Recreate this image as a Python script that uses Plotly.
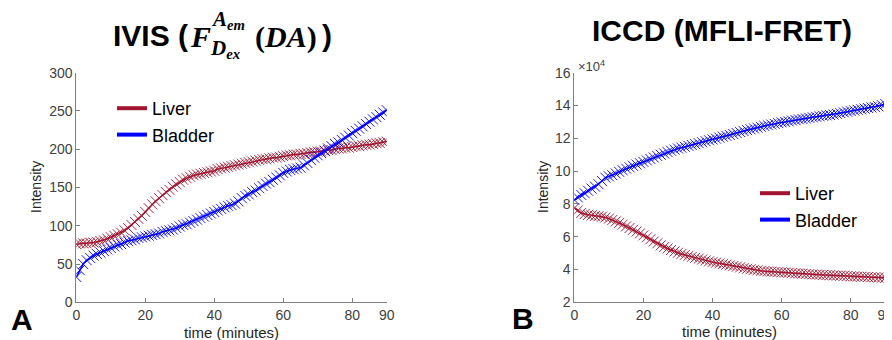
import plotly.graph_objects as go

minutes = list(range(0, 91))

ivis_liver = [76, 77, 77, 77, 78, 78,
              79, 80, 81, 83, 85,
              87, 89, 91, 94, 97,
              101, 105, 109, 113, 118,
              123, 128, 132, 136, 140,
              144, 147, 151, 154, 157,
              160, 162, 164, 166, 167,
              168, 169, 170, 171, 172,
              174, 175, 176, 177, 178,
              179, 180, 181, 182, 183,
              184, 185, 186, 187, 187,
              188, 189, 189, 190, 191,
              192, 192, 193, 193, 194,
              194, 195, 196, 196, 197,
              197, 198, 199, 199, 200,
              201, 201, 202, 202, 203,
              204, 204, 205, 206, 206,
              207, 208, 208, 209, 210]

ivis_bladder = [33, 42, 50, 55, 58, 61,
                63, 65, 67, 69, 71,
                73, 75, 76, 78, 80,
                81, 82, 84, 85, 86,
                87, 88, 89, 90, 92,
                93, 94, 95, 97, 99,
                101, 102, 104, 106, 108,
                110, 112, 114, 116, 118,
                120, 122, 124, 126, 127,
                129, 132, 136, 139, 141,
                144, 146, 149, 152, 155,
                157, 160, 163, 166, 169,
                171, 173, 174, 175, 176,
                179, 182, 186, 189, 192,
                195, 198, 201, 204, 207,
                209, 212, 215, 218, 221,
                224, 227, 230, 233, 236,
                239, 242, 245, 248, 251]

# ICCD values in units of 10^4
iccd_liver = [7.75, 7.6, 7.45, 7.38, 7.33, 7.3,
              7.27, 7.25, 7.22, 7.17, 7.1,
              7.02, 6.93, 6.84, 6.74, 6.63,
              6.53, 6.42, 6.31, 6.2, 6.08,
              5.96, 5.84, 5.71, 5.59, 5.47,
              5.37, 5.28, 5.19, 5.1, 5.02,
              4.95, 4.89, 4.83, 4.77, 4.71,
              4.66, 4.61, 4.55, 4.5, 4.45,
              4.41, 4.37, 4.33, 4.29, 4.25,
              4.21, 4.17, 4.13, 4.08, 4.04,
              4.01, 3.98, 3.95, 3.92, 3.9,
              3.88, 3.87, 3.86, 3.84, 3.83,
              3.82, 3.8, 3.79, 3.77, 3.76,
              3.75, 3.73, 3.72, 3.7, 3.69,
              3.68, 3.67, 3.66, 3.65, 3.64,
              3.63, 3.62, 3.61, 3.6, 3.59,
              3.58, 3.57, 3.56, 3.55, 3.54,
              3.53, 3.52, 3.51, 3.5, 3.49]

iccd_bladder = [8.25, 8.4, 8.55, 8.65, 8.8, 8.93,
                9.05, 9.2, 9.4, 9.6, 9.68,
                9.75, 9.85, 9.95, 10.05, 10.15,
                10.23, 10.32, 10.4, 10.48, 10.56,
                10.65, 10.74, 10.83, 10.92, 11.0,
                11.08, 11.16, 11.24, 11.31, 11.38,
                11.43, 11.48, 11.54, 11.59, 11.64,
                11.7, 11.76, 11.82, 11.88, 11.93,
                11.98, 12.04, 12.1, 12.15, 12.2,
                12.26, 12.32, 12.38, 12.44, 12.5,
                12.55, 12.6, 12.65, 12.7, 12.75,
                12.8, 12.84, 12.88, 12.93, 12.97,
                13.0, 13.04, 13.08, 13.11, 13.15,
                13.18, 13.21, 13.25, 13.28, 13.31,
                13.34, 13.37, 13.4, 13.42, 13.45,
                13.49, 13.53, 13.58, 13.62, 13.66,
                13.7, 13.74, 13.77, 13.81, 13.85,
                13.88, 13.9, 13.95, 14.02, 14.09]

x_ticks = [0, 20, 40, 60, 80, 90]
ivis_yticks = [0, 50, 100, 150, 200, 250, 300]
iccd_yticks = [2, 4, 6, 8, 10, 12, 14, 16]
series_names = ["Liver", "Bladder"]

LIVER = "#A2142F"
BLADDER = "#0000FF"
AXC = "#404040"
SANS = "Liberation Sans, Arial, sans-serif"
SERIF = "Liberation Serif, DejaVu Serif, serif"

# page body has an 8px margin; the figure is sized to fit the window inside it
OFF = 8
W, H = 892 - OFF, 340 - OFF

fig = go.Figure()

def add_series(xa, ya, y, color, name, legend):
    fig.add_trace(go.Scatter(
        x=minutes, y=y, xaxis=xa, yaxis=ya, mode="lines+markers",
        line=dict(color=color, width=1.5),
        marker=dict(symbol="x-thin", size=10, line=dict(color=color, width=0.9)),
        showlegend=False, hoverinfo="skip"))
    fig.add_trace(go.Scatter(
        x=[None], y=[None], xaxis=xa, yaxis=ya, mode="lines",
        line=dict(color=color, width=4), name=name, legend=legend))

add_series("x", "y", ivis_liver, LIVER, series_names[0], "legend")
add_series("x", "y", ivis_bladder, BLADDER, series_names[1], "legend")
add_series("x2", "y2", iccd_liver, LIVER, series_names[0], "legend2")
add_series("x2", "y2", iccd_bladder, BLADDER, series_names[1], "legend2")

def px(xp):
    return (xp - OFF) / W

def py(yp):
    return 1 - (yp - OFF) / H

ydom = [py(302.3), py(72.7)]
axis_common = dict(showline=True, linecolor="#808080", linewidth=1, ticks="inside",
                   ticklen=4, tickcolor="#808080", showgrid=False, zeroline=False,
                   automargin=False, ticklabeloverflow="allow",
                   tickfont=dict(family=SANS, size=14, color=AXC), mirror=False)

fig.update_layout(
    template="none",
    width=W, height=H, margin=dict(l=0, r=0, t=0, b=0, autoexpand=False),
    paper_bgcolor="white", plot_bgcolor="white",
    xaxis=dict(domain=[px(76.3), px(386.7)], range=[0, 90], tickvals=x_ticks,
               anchor="y", **axis_common),
    yaxis=dict(domain=ydom, range=[0, 300], tickvals=ivis_yticks, anchor="x", **axis_common),
    xaxis2=dict(domain=[px(574.3), px(885.3)], range=[0, 90], tickvals=x_ticks,
                anchor="y2", **axis_common),
    yaxis2=dict(domain=ydom, range=[2, 16], tickvals=iccd_yticks, anchor="x2", **axis_common),
    legend=dict(x=px(112), y=py(90), xanchor="left", yanchor="top",
                font=dict(family=SANS, size=18, color="black"), bgcolor="rgba(0,0,0,0)",
                itemwidth=30, tracegroupgap=0),
    legend2=dict(x=px(755), y=py(175), xanchor="left", yanchor="top",
                 font=dict(family=SANS, size=18, color="black"), bgcolor="rgba(0,0,0,0)",
                 itemwidth=30, tracegroupgap=0),
)

def ann(text, x, y, size, family=SANS, xanchor="center", yanchor="middle", color="black", angle=0):
    fig.add_annotation(text=text, x=px(x), y=py(y), xref="paper", yref="paper",
                       xanchor=xanchor, yanchor=yanchor, showarrow=False, textangle=angle,
                       font=dict(family=family, size=size, color=color))

# Left title pieces
ann("<b>IVIS (</b>", 190, 35, 30, xanchor="right")
ann("<b><i>F</i></b>", 188, 37, 30, family=SERIF, xanchor="left")
ann("<b><i>A<sub>em</sub></i></b>", 209, 20, 21, family=SERIF, xanchor="left")
ann("<b><i>D<sub>ex</sub></i></b>", 208, 49, 21, family=SERIF, xanchor="left")
ann("<b>(<i>DA</i>)</b>", 253, 37, 30, family=SERIF, xanchor="left")
ann("<b>)</b>", 320, 35, 30, xanchor="left")

# Right title
ann("<b>ICCD (MFLI-FRET)</b>", 722, 30, 30)

# Axis titles
ann("time (minutes)", 231, 332, 15, color="#262626")
ann("time (minutes)", 729, 331, 15, color="#262626")
ann("Intensity", 36, 187, 14, color="#262626", angle=-90)
ann("Intensity", 543, 187, 14, color="#262626", angle=-90)
ann("×10<sup>4</sup>", 576, 66, 13, color=AXC, xanchor="left")

# Panel letters
ann("<b>A</b>", 22, 319, 30)
ann("<b>B</b>", 523, 318, 30)

fig.write_html("out.html")
